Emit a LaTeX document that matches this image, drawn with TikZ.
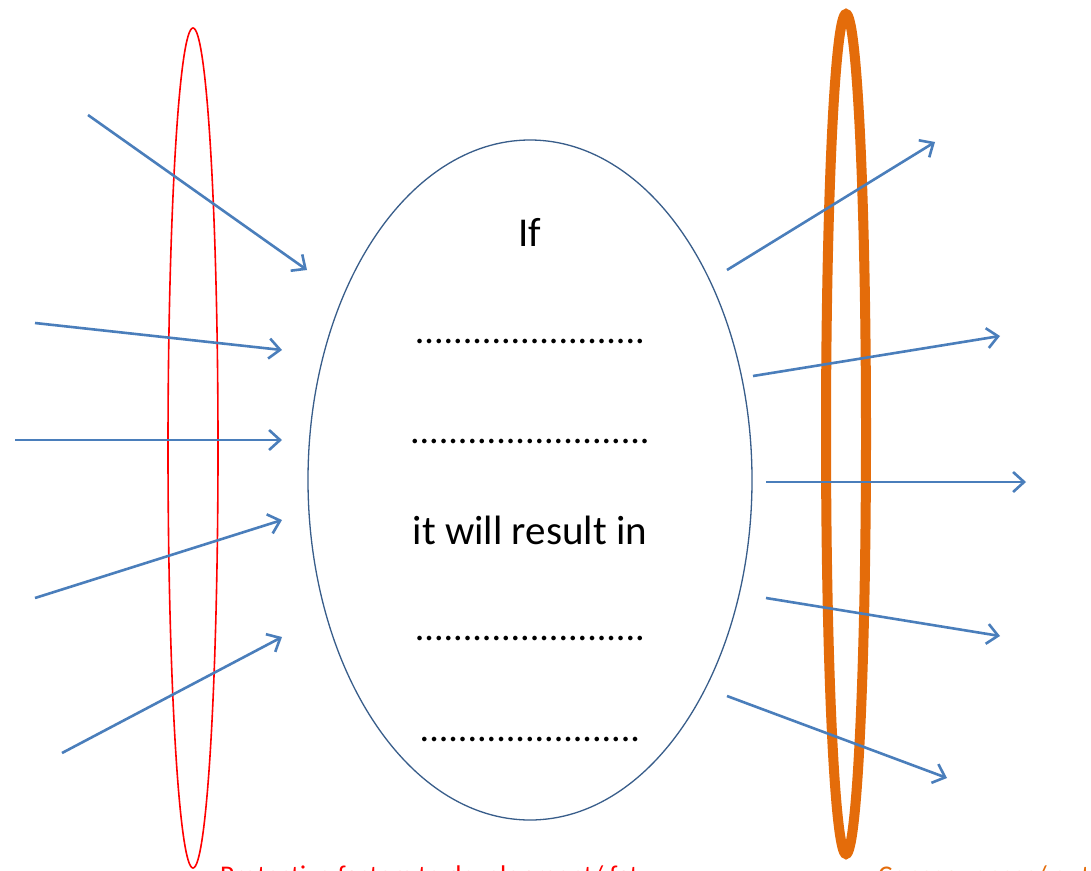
\documentclass[tikz,border=0pt]{standalone}
\usepackage{fontspec}
\setmainfont{Carlito}
\usetikzlibrary{arrows.meta,shapes.geometric}
\definecolor{arrowblue}{HTML}{4A7EBB}
\definecolor{ellblue}{HTML}{385D8A}
\definecolor{ringorange}{HTML}{E46C0A}
\definecolor{ringred}{HTML}{FF0000}
\begin{document}
\begin{tikzpicture}[x=1pt,y=-1pt,
  flow/.style={draw=arrowblue,line width=2.6pt,-{Straight Barb[length=11pt,width=20pt,line width=2.6pt]}},
  bigtext/.style={font=\fontsize{41}{48}\selectfont,text=black,inner sep=0pt},
  dotrow/.style={font=\fontsize{38}{44}\selectfont,text=black,inner sep=0pt}]
\clip (0,0) rectangle (1091,870);
\useasboundingbox (0,0) rectangle (1091,870);
\fill[white] (0,0) rectangle (1091,870);

% rings
\draw[ringred,line width=1.6pt] (193,448) ellipse [x radius=25, y radius=420];
\draw[ringorange,line width=10pt] (846,434) ellipse [x radius=20, y radius=420];

% central ellipse
\node[draw=ellblue,line width=1.3pt,ellipse,minimum width=444pt,minimum height=680pt,inner sep=0pt] (core) at (530,480) {};

% texts
\node[bigtext] (tif) at (530,232) {If};
\node[dotrow] (d1) at (530,341) {........................};
\node[dotrow] (d2) at (530,441) {.........................};
\node[bigtext] (tres) at (530,530) {it will result in};
\node[dotrow] (d3) at (530,638) {........................};
\node[dotrow] (d4) at (530,739) {.......................};

% left arrow ends
\coordinate (la1) at (88,115);  \coordinate (lb1) at (307,270);
\coordinate (la2) at (35,323);  \coordinate (lb2) at (282,350);
\coordinate (la3) at (15,440);  \coordinate (lb3) at (282,440);
\coordinate (la4) at (35,598);  \coordinate (lb4) at (282,520);
\coordinate (la5) at (62,753);  \coordinate (lb5) at (282,637);
\foreach \i in {1,...,5} \draw[flow] (la\i) -- (lb\i);

% right arrow ends
\coordinate (ra1) at (727,270); \coordinate (rb1) at (935,142);
\coordinate (ra2) at (753,376); \coordinate (rb2) at (1000,336);
\coordinate (ra3) at (766,482); \coordinate (rb3) at (1026,482);
\coordinate (ra4) at (766,598); \coordinate (rb4) at (1000,636);
\coordinate (ra5) at (727,696); \coordinate (rb5) at (947,778);
\foreach \i in {1,...,5} \draw[flow] (ra\i) -- (rb\i);

% bottom captions (cut off by the page edge, as in the reference)
\node[anchor=base west,inner sep=0pt,text=ringred,font=\fontsize{27}{32}\selectfont] (capl) at (220,884) {Protective factors to development/ fat};
\node[anchor=base west,inner sep=0pt,text=ringorange,font=\fontsize{27}{32}\selectfont] (capr) at (878,884) {Consequences/ outcomes};
\end{tikzpicture}
\end{document}
